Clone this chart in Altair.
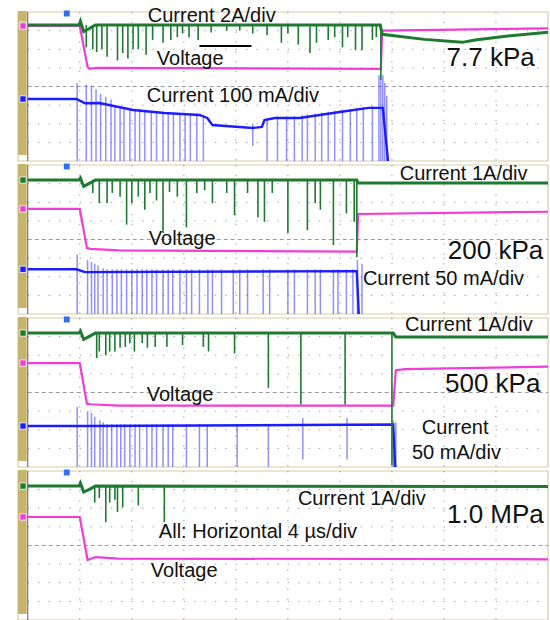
import altair as alt
import pandas as pd

# Four stacked scope captures (7.7 kPa, 200 kPa, 500 kPa, 1.0 MPa).
# Horizontal: 4 us/div, 10 divisions.  Vertical: 8 divisions (-4 .. +4) per capture.
PX_PER_DIV = 18.625
STEP = 8 + 4 / PX_PER_DIV          # one capture plus the white gap under it, in divisions
T_LO, T_HI = -0.75, 40.0           # the part left of t = 0 holds the channel strip

GREEN = "#1e7a30"
MAGENTA = "#f03cd8"
BLUE = "#1c1cff"
SPIKE_BLUE = "#3535ff"
TAN = "#c6b36c"
FRAME = "#d8cea4"
GRID = "#6f7894"
FONT = "Liberation Sans"

# ---------------- green: switch current ----------------
green_77 = [(0, 3.3), (3.95, 3.3), (4.05, 3.5), (4.3, 2.95), (4.7, 3.1), (5.2, 3.3),
            (27.1, 3.3), (27.25, 2.8), (30.5, 2.53), (33.4, 2.37), (34.4, 2.5), (36.9, 2.71), (40, 2.91)]
green_200 = [(0, 3.19), (3.95, 3.19), (4.05, 3.3), (4.3, 2.85), (4.7, 3.0), (5.2, 3.19),
             (25.3, 3.19), (25.4, 3.03), (40, 3.03)]
green_500 = [(0, 3.19), (3.95, 3.19), (4.05, 3.3), (4.3, 2.85), (4.7, 3.0), (5.2, 3.19),
             (28.1, 3.19), (28.3, 2.98), (40, 2.98)]
green_1M = [(0, 3.19), (3.95, 3.19), (4.05, 3.35), (4.3, 2.87), (4.7, 3.0), (5.2, 3.19), (40, 3.17)]

# green dips: (time us, lowest level div)
gspk_77 = [(4.5, 2.1), (5.0, 2.0), (5.3, 1.85), (5.7, 2.0), (6.1, 1.6), (6.9, 1.4), (7.3, 1.8), (7.7, 1.5),
           (8.1, 2.0), (8.5, 2.0), (9.1, 1.7), (9.6, 2.5), (10.4, 2.35), (11.0, 2.5), (11.5, 2.65),
           (11.9, 2.85), (12.4, 2.65), (13.1, 2.5), (14.1, 2.9), (15.3, 3.0), (16.3, 3.0), (17.3, 2.85),
           (18.4, 2.75), (19.5, 2.35), (20.0, 2.85), (20.8, 2.25), (21.7, 1.8), (22.2, 2.35), (23.1, 2.5),
           (23.6, 2.65), (24.2, 2.1), (24.6, 2.65), (25.2, 1.95), (25.7, 1.95), (26.5, 2.5), (26.8, 2.65),
           (27.15, 0.35)]
gspk_200 = [(5.0, 2.5), (5.5, 1.95), (6.1, 1.95), (6.5, 2.5), (7.1, 2.3), (7.6, 0.8), (8.0, 1.95),
            (8.5, 2.3), (9.0, 1.6), (9.4, 2.5), (9.9, 2.1), (10.4, 0.35), (10.9, 2.55), (11.5, 2.3),
            (12.2, 0.65), (13.0, 2.5), (13.6, 2.65), (14.2, 1.95), (15.3, 2.5), (15.9, 1.3), (16.9, 2.5),
            (17.7, 1.2), (18.2, 0.95), (18.8, 2.5), (20.0, 0.35), (21.5, 0.5), (22.1, 1.95), (22.5, 1.6),
            (23.5, -0.3), (24.5, 1.4), (25.1, 0.95), (25.3, -0.95)]
gspk_500 = [(5.3, 1.85), (5.5, 2.2), (6.0, 2.0), (6.3, 2.2), (6.7, 2.2), (7.1, 2.4), (7.5, 2.45),
            (7.85, 2.65), (8.2, 2.2), (8.8, 2.65), (9.2, 2.4), (9.8, 2.45), (10.7, 2.45), (11.9, 2.55),
            (13.5, 2.45), (13.9, 2.2), (15.9, 2.1), (18.5, 0.25), (21.0, -0.65), (24.4, -0.65), (28.0, -3.9)]
gspk_1M = [(5.15, 2.3), (5.5, 2.55), (6.0, 1.25), (6.3, 2.3), (6.7, 2.45), (6.9, 1.8), (7.3, 2.05),
           (8.5, 2.15), (10.5, 1.25)]

# ---------------- magenta: voltage ----------------
mag_77 = [(0, 3.25), (4.0, 3.25), (4.6, 1.05), (4.75, 0.95), (5.3, 1.0), (27.15, 0.95), (27.25, 3.0), (40, 3.12)]
mag_200 = [(0, 1.64), (4.0, 1.64), (4.55, -0.45), (4.8, -0.5), (7, -0.58), (25.3, -0.65), (25.4, 1.37), (40, 1.49)]
mag_500 = [(0, 1.58), (4.0, 1.58), (4.55, -0.6), (4.8, -0.63), (7, -0.7), (28.1, -0.71), (28.3, 1.2),
           (29, 1.25), (40, 1.39)]
mag_1M = [(0, 1.53), (4.0, 1.53), (4.6, -0.78), (5.2, -0.62), (7, -0.7), (40, -0.74)]

# ---------------- blue: discharge current ----------------
blue_77 = [(0, -0.67), (3.75, -0.67), (4.4, -0.9), (5.5, -0.89), (8.1, -1.26), (10.5, -1.42), (13.2, -1.53),
           (13.8, -1.69), (14.2, -2.07), (17.3, -2.23), (18.0, -2.17), (18.2, -1.8), (19.0, -1.69),
           (20.9, -1.69), (24.0, -1.37), (26.2, -1.15), (27.3, -1.15), (27.7, -4.0)]
blue_200 = [(0, -1.6), (3.75, -1.6), (4.4, -1.75), (25.3, -1.7), (25.45, -4.0)]
blue_500 = [(0, -1.8), (3.75, -1.8), (4.4, -1.8), (28.1, -1.72), (28.25, -4.0)]

# blue pulses: (time us, top div, bottom div)
bspk_77 = [(3.8, 0.19, -4), (4.5, 0.1, -4), (4.9, 0.05, -4), (5.25, -0.15, -4), (5.6, -0.4, -4),
           (6.0, -0.55, -4), (6.4, -0.7, -4), (6.7, -1.0, -4), (7.1, -1.05, -4), (7.4, -1.1, -4),
           (7.85, -1.15, -4), (8.25, -1.2, -4), (8.6, -1.2, -4), (9.0, -1.25, -4), (9.5, -1.3, -4),
           (9.9, -1.3, -4), (10.4, -1.35, -4), (10.8, -1.4, -4), (11.2, -1.4, -4), (11.7, -1.45, -4),
           (12.1, -1.45, -4), (12.5, -1.45, -4), (13.0, -1.45, -4), (13.5, -1.55, -4), (17.3, -2.0, -3.2),
           (18.4, -1.7, -4), (19.2, -1.6, -4), (19.9, -1.6, -4), (20.5, -1.6, -4), (21.1, -1.55, -4),
           (21.5, -1.5, -4), (22.1, -1.45, -4), (22.6, -1.4, -4), (23.1, -1.35, -4), (23.6, -1.3, -4),
           (24.2, -1.25, -4), (24.8, -1.2, -4), (25.3, -1.15, -4), (25.8, -1.1, -4), (26.5, -1.05, -4),
           (27.0, 0.6, -4), (27.15, 0.4, -4), (27.3, 0.6, -4), (27.45, 0.2, -4), (27.6, -0.5, -4)]
bspk_200 = [(3.8, -0.8, -4), (4.6, -1.1, -4), (4.9, -1.2, -4), (5.15, -1.3, -4), (5.4, -1.4, -4),
            (5.8, -1.55, -4), (6.1, -1.6, -4), (6.5, -1.6, -4), (6.85, -1.6, -4), (7.2, -1.6, -4),
            (7.6, -1.6, -4), (8.0, -1.6, -4), (8.4, -1.6, -4), (8.8, -1.6, -4), (9.15, -1.6, -4),
            (9.55, -1.6, -4), (9.9, -1.6, -4), (10.4, -1.6, -4), (10.8, -1.6, -4), (11.15, -1.6, -4),
            (11.7, -1.6, -4), (12.2, -1.6, -4), (12.6, -1.6, -4), (13.2, -1.6, -4), (13.85, -1.6, -4),
            (14.2, -1.6, -4), (14.9, -1.6, -4), (15.8, -1.6, -4), (16.3, -1.6, -4), (16.9, -1.6, -4),
            (18.1, -1.6, -4), (18.6, -1.6, -4), (20.0, -1.6, -4), (20.5, -1.6, -4), (21.5, -1.6, -4),
            (22.1, -1.6, -4), (22.5, -1.6, -4), (23.5, -1.6, -4), (23.85, -1.6, -4), (24.5, -1.6, -4),
            (25.0, -1.6, -4), (25.35, -1.1, -4), (25.7, -1.3, -4)]
bspk_500 = [(3.8, -0.76, -4), (4.6, -1.0, -4), (4.9, -1.1, -4), (5.15, -1.3, -4), (5.55, -1.5, -4),
            (5.8, -1.6, -4), (6.1, -1.7, -4), (6.45, -1.7, -4), (6.85, -1.7, -4), (7.15, -1.7, -4),
            (7.45, -1.7, -4), (7.85, -1.7, -4), (8.25, -1.7, -4), (8.6, -1.7, -4), (9.15, -1.7, -4),
            (9.55, -1.7, -4), (9.9, -1.7, -4), (10.4, -1.7, -4), (10.8, -1.7, -4), (11.15, -1.7, -4),
            (12.2, -1.7, -4), (13.2, -1.7, -4), (13.8, -1.7, -4), (16.1, -1.7, -4), (18.5, -1.7, -4),
            (21.15, -1.37, -3.6), (24.55, -1.37, -3.6), (28.1, -1.5, -4), (28.3, -1.6, -4)]

# annotations: (capture, time us, level div, text, font size)
labels = [
    (0, 9.23, 3.46, "Current 2A/div", 20), (0, 9.92, 1.15, "Voltage", 20),
    (0, 32.2, 1.10, "7.7 kPa", 26), (0, 9.15, -0.83, "Current 100 mA/div", 20),
    (1, 28.6, 3.19, "Current 1A/div", 20), (1, 9.31, -0.30, "Voltage", 20),
    (1, 32.3, -1.05, "200 kPa", 26), (1, 25.77, -2.44, "Current 50 mA/div", 20),
    (2, 29.0, 3.30, "Current 1A/div", 20), (2, 32.08, 0.03, "500 kPa", 26),
    (2, 9.15, -0.46, "Voltage", 20), (2, 30.3, -2.23, "Current", 20), (2, 29.54, -3.57, "50 mA/div", 20),
    (3, 20.77, 2.17, "Current 1A/div", 20), (3, 32.23, 1.21, "1.0 MPa", 26),
    (3, 10.08, 0.40, "All: Horizontal 4 \u00b5s/div", 20), (3, 9.46, -1.69, "Voltage", 20),
]
scale_bar = [(0, 13.2, 17.2, 2.17)]      # (capture, start us, end us, level div)

GRID_T = [4, 8, 12, 16, 20, 24, 28, 32, 36]
GRID_V = [-3, -2, -1, 1, 2, 3]
TRIGGER_T = 3.0

greens = [green_77, green_200, green_500, green_1M]
gspks = [gspk_77, gspk_200, gspk_500, gspk_1M]
mags = [mag_77, mag_200, mag_500, mag_1M]
blues = [blue_77, blue_200, blue_500, None]
bspks = [bspk_77, bspk_200, bspk_500, None]


def off(p):
    return -p * STEP


def trace_df(series):
    rows = []
    for p, pts in enumerate(series):
        if pts is None:
            continue
        for t, v in pts:
            rows.append({"panel": p, "t": t, "v": v + off(p)})
    return pd.DataFrame(rows)


X = alt.X("t:Q", scale=alt.Scale(domain=[T_LO, T_HI], nice=False, zero=False), axis=None)
Y = alt.Y("v:Q", scale=alt.Scale(domain=[-4 - 3 * STEP, 4], nice=False, zero=False), axis=None)

# frames, grid, strip
frames = pd.DataFrame([{"t": T_LO, "t2": T_HI, "v": 4 + off(p), "v2": -4 + off(p)} for p in range(4)])
vgrid = pd.DataFrame([{"t": t, "v": 4 + off(p), "v2": -4 + off(p)} for p in range(4) for t in GRID_T])
hgrid = pd.DataFrame([{"t": 0, "t2": 40, "v": v + off(p)} for p in range(4) for v in GRID_V])
center = pd.DataFrame([{"t": 0, "t2": 40, "v": off(p)} for p in range(4)])
strips = pd.DataFrame([{"t": T_LO, "t2": -0.08, "v": 4.05 + off(p), "v2": -3.68 + off(p)} for p in range(4)])
leftedge = pd.DataFrame([{"t": 0, "v": 4 + off(p), "v2": -4 + off(p)} for p in range(4)])

frame_l = alt.Chart(frames).mark_rect(fill="white", stroke=FRAME, strokeWidth=1.2).encode(
    x=X, x2="t2:Q", y=Y, y2="v2:Q")
vgrid_l = alt.Chart(vgrid).mark_rule(color=GRID, strokeWidth=1, strokeDash=[1.3, 8.5], opacity=0.75).encode(
    x=X, y=Y, y2="v2:Q")
hgrid_l = alt.Chart(hgrid).mark_rule(color=GRID, strokeWidth=1, strokeDash=[1.3, 9.1], opacity=0.75).encode(
    x=X, x2="t2:Q", y=Y)
center_l = alt.Chart(center).mark_rule(color="#9a9aa4", strokeWidth=1, strokeDash=[4, 3]).encode(
    x=X, x2="t2:Q", y=Y)
strip_l = alt.Chart(strips).mark_rect(color=TAN).encode(x=X, x2="t2:Q", y=Y, y2="v2:Q")
edge_l = alt.Chart(leftedge).mark_rule(color="#5c5c5c", strokeWidth=1).encode(x=X, y=Y, y2="v2:Q")

# traces
mag_l = alt.Chart(trace_df(mags)).mark_line(color=MAGENTA, strokeWidth=2.2).encode(
    x=X, y=Y, detail="panel:N")
blue_l = alt.Chart(trace_df(blues)).mark_line(color=BLUE, strokeWidth=2.4).encode(
    x=X, y=Y, detail="panel:N")

bsp_rows = []
for p, sp in enumerate(bspks):
    if sp is None:
        continue
    for t, top, bot in sp:
        bsp_rows.append({"t": t, "v": top + off(p), "v2": bot + off(p)})
bspk_l = alt.Chart(pd.DataFrame(bsp_rows)).mark_rule(color=SPIKE_BLUE, strokeWidth=1.5, opacity=0.55).encode(
    x=X, y=Y, y2="v2:Q")

green_l = alt.Chart(trace_df(greens)).mark_line(color=GREEN, strokeWidth=3).encode(
    x=X, y=Y, detail="panel:N")
gsp_rows = []
for p, sp in enumerate(gspks):
    base = greens[p][0][1]
    for t, tip in sp:
        gsp_rows.append({"t": t, "v": base + off(p), "v2": tip + off(p)})
gspk_l = alt.Chart(pd.DataFrame(gsp_rows)).mark_rule(color=GREEN, strokeWidth=1.6).encode(
    x=X, y=Y, y2="v2:Q")

# channel tags on the strip and trigger marks
tags = []
for p in range(4):
    tags.append({"v": greens[p][0][1] + off(p), "c": GREEN})
    tags.append({"v": mags[p][0][1] + off(p), "c": MAGENTA})
    if blues[p] is not None:
        tags.append({"v": blues[p][0][1] + off(p), "c": BLUE})
tag_l = alt.Chart(pd.DataFrame(tags)).mark_square(size=40, opacity=1, stroke="white", strokeWidth=0.8).encode(
    x=alt.value(5), y=Y, color=alt.Color("c:N", scale=None))
trig = pd.DataFrame([{"t": TRIGGER_T, "v": 3.92 + off(p)} for p in range(4)])
trig_l = alt.Chart(trig).mark_square(size=35, color="#2f6ff0", opacity=1).encode(x=X, y=Y)

bar_l = alt.Chart(pd.DataFrame([{"t": a, "t2": b, "v": v + off(p)} for p, a, b, v in scale_bar])).mark_rule(
    color="black", strokeWidth=2).encode(x=X, x2="t2:Q", y=Y)

lab_df = pd.DataFrame([{"t": t, "v": v + off(p), "txt": s, "fs": fs} for p, t, v, s, fs in labels])
text_l = alt.Chart(lab_df).mark_text(align="left", baseline="alphabetic", font=FONT, color="#111111").encode(
    x=X, y=Y, text="txt:N", size=alt.Size("fs:Q", scale=None))

chart = alt.layer(
    frame_l, vgrid_l, hgrid_l, center_l, strip_l, edge_l,
    mag_l, bspk_l, blue_l, green_l, gspk_l, tag_l, trig_l, bar_l, text_l,
).properties(
    width=530, height=608,
    autosize=alt.AutoSizeParams(type="none"),
    padding={"left": 18, "top": 12, "right": 2, "bottom": 0},
).configure_view(stroke=None)

chart.save("out.html", embed_options={"renderer": "svg", "actions": False})
